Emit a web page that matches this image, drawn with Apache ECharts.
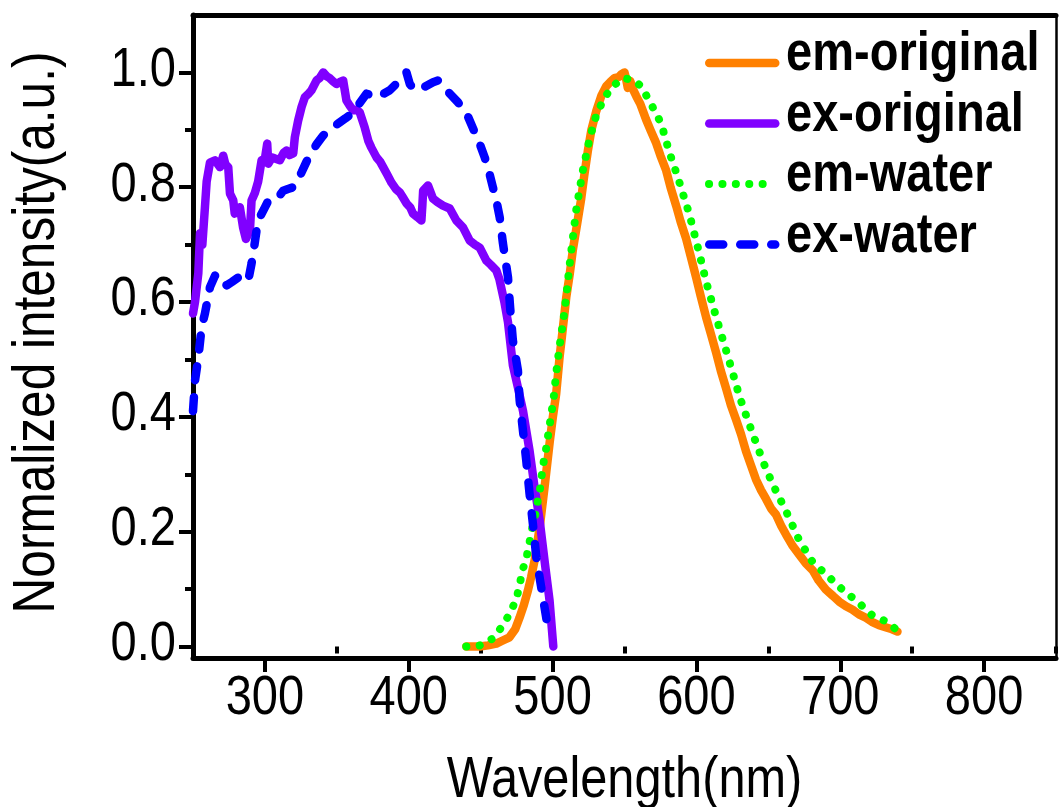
<!DOCTYPE html>
<html>
<head>
<meta charset="utf-8">
<script src="https://cdn.jsdelivr.net/npm/echarts@6/dist/echarts.min.js"></script>
<style>
  html, body { margin: 0; padding: 0; background: #ffffff; }
  #chart { width: 1059px; height: 807px; }
</style>
</head>
<body>
<div id="chart"></div>
<script>
// Normalized excitation / emission spectra, [wavelength (nm), intensity]
const seriesNames = ['em-original', 'ex-original', 'em-water', 'ex-water'];

const emOriginal = [
  [440, 0], [449.3, 0.0], [455, 0.002], [460.9, 0.005], [465, 0.01], [470, 0.016], [474, 0.03],
  [477, 0.05], [480, 0.072], [482.9, 0.098], [485, 0.12], [487.5, 0.15], [491, 0.207], [494.4, 0.277],
  [497.9, 0.354], [500.2, 0.4], [502.5, 0.44], [504.9, 0.505], [506.5, 0.54], [509.5, 0.608],
  [512, 0.65], [514.1, 0.691], [517, 0.735], [519.9, 0.78], [522, 0.82], [524.5, 0.863], [527, 0.9],
  [530.3, 0.932], [534, 0.96], [537.3, 0.976], [540, 0.983], [543, 0.99], [546, 0.992], [548, 0.997],
  [550, 1.0], [551, 0.99], [552.3, 0.973], [554, 0.985], [556, 0.97], [558.1, 0.959], [561, 0.945],
  [565, 0.918], [568, 0.9], [572, 0.877], [575, 0.855], [579, 0.829], [582, 0.8], [586, 0.767],
  [589, 0.74], [592.8, 0.711], [596, 0.68], [599.8, 0.643], [603, 0.61], [606.7, 0.574], [610, 0.545],
  [613.7, 0.512], [617, 0.48], [620.6, 0.45], [624, 0.42], [627.6, 0.395], [631, 0.37], [634.5, 0.34],
  [638, 0.315], [641.4, 0.291], [645, 0.272], [648.4, 0.257], [652, 0.24], [655.3, 0.23], [659, 0.21],
  [662.3, 0.195], [667, 0.175], [671.5, 0.16], [676, 0.145], [680.8, 0.133], [685, 0.115], [690, 0.099],
  [695, 0.088], [699.3, 0.078], [704, 0.07], [708.6, 0.064], [713, 0.056], [717.8, 0.05], [722, 0.043],
  [727, 0.037], [732, 0.033], [736, 0.03], [739.8, 0.026]
];

const exOriginal = [
  [250, 0.58], [251.4, 0.6], [253.7, 0.65], [254.9, 0.72], [256.5, 0.7], [258.3, 0.765], [259.5, 0.81],
  [261.8, 0.843], [265.3, 0.847], [268.8, 0.835], [271, 0.855], [272.5, 0.84], [274.5, 0.835],
  [275.7, 0.789], [278, 0.777], [279, 0.754], [282.6, 0.765], [284.8, 0.73], [286.8, 0.71], [289.6, 0.725],
  [290.7, 0.777], [293, 0.79], [295.3, 0.81], [297.7, 0.847], [300, 0.85], [301.6, 0.876], [302.3, 0.841],
  [305, 0.852], [307, 0.85], [310.4, 0.847], [313, 0.86], [315, 0.864], [317, 0.856], [319.7, 0.859],
  [320.8, 0.887], [323.1, 0.916], [325.5, 0.94], [327.8, 0.957], [330, 0.962], [332.4, 0.969],
  [335.9, 0.986], [338, 0.99], [340.5, 1.0], [343, 0.993], [345.1, 0.99], [347.5, 0.984], [349.8, 0.98],
  [352, 0.983], [354.4, 0.986], [356.7, 0.951], [359, 0.942], [361.3, 0.934], [364, 0.935], [366, 0.93],
  [369.4, 0.904], [372, 0.88], [374, 0.869], [377.6, 0.852], [380, 0.845], [382.2, 0.835], [385, 0.822],
  [388, 0.808], [391, 0.797], [393.8, 0.791], [396, 0.782], [398.4, 0.772], [401, 0.765], [403, 0.754],
  [406, 0.748], [408.8, 0.742], [409.5, 0.77], [410, 0.794], [413.4, 0.803], [416.9, 0.78], [420, 0.774],
  [423.8, 0.768], [428.5, 0.763], [433.1, 0.742], [437.7, 0.73], [442.4, 0.707], [446, 0.7],
  [449.3, 0.695], [454, 0.672], [457, 0.665], [460.9, 0.655], [463, 0.64], [466.5, 0.6], [469, 0.565],
  [472.4, 0.49], [476, 0.45], [479.4, 0.411], [484, 0.341], [487.5, 0.277], [491, 0.22], [494.4, 0.15],
  [497.9, 0.08], [500.5, 0.0]
];

const emWater = [
  [440, 0], [449.3, 0.002], [458.5, 0.014], [465.5, 0.037], [470.8, 0.06], [474.8, 0.083], [477.1, 0.106],
  [478.7, 0.13], [481.7, 0.153], [483.6, 0.176], [485.2, 0.2], [487.5, 0.223], [489.1, 0.246], [491, 0.269],
  [493.3, 0.315], [495.1, 0.338], [497.9, 0.385], [500.7, 0.432], [502.6, 0.478], [504.9, 0.524],
  [507.6, 0.571], [509.5, 0.61], [511.8, 0.664], [516.4, 0.76], [521, 0.829], [525.7, 0.884],
  [530.3, 0.925], [536, 0.956], [541.9, 0.976], [548.8, 0.99], [555.8, 0.987], [561.6, 0.976],
  [569.7, 0.939], [575.5, 0.911], [581.3, 0.86], [587, 0.818], [591.7, 0.78], [595.1, 0.753],
  [602.1, 0.684], [606.7, 0.636], [613.7, 0.574], [619.4, 0.526], [625.2, 0.477], [629.9, 0.436],
  [635.6, 0.395], [642.6, 0.347], [648.4, 0.309], [655.3, 0.271], [662.3, 0.236], [671.5, 0.185],
  [680.8, 0.147], [691.2, 0.123], [701.6, 0.099], [712, 0.078], [722.4, 0.054], [731.7, 0.044],
  [738.7, 0.03]
];

const exWater = [
  [250, 0.41], [251.4, 0.463], [253.7, 0.503], [256, 0.556], [258.3, 0.58], [261.8, 0.626], [265.3, 0.646],
  [268, 0.648], [270, 0.643], [273.4, 0.629], [277, 0.635], [281.5, 0.643], [286, 0.634], [289, 0.645],
  [290.7, 0.667], [291.9, 0.685], [294.2, 0.725], [296.5, 0.748], [300, 0.765], [303.5, 0.782],
  [307, 0.785], [310.4, 0.786], [312.7, 0.794], [316, 0.797], [319.7, 0.8], [322, 0.81], [325.5, 0.826],
  [329, 0.845], [332.4, 0.861], [336, 0.875], [340.5, 0.89], [344, 0.898], [347.5, 0.904], [350.9, 0.911],
  [356, 0.92], [361.3, 0.93], [366, 0.947], [370.6, 0.963], [374, 0.96], [377.6, 0.957], [382, 0.962],
  [386.8, 0.969], [392.6, 0.983], [398.4, 1.0], [400.7, 0.98], [403, 0.972], [406.5, 0.969], [411, 0.975],
  [416.9, 0.983], [420.3, 0.986], [424, 0.976], [428.5, 0.963], [434.2, 0.948], [440, 0.93],
  [445.8, 0.896], [449.3, 0.876], [452.8, 0.852], [455, 0.835], [458.5, 0.8], [460.9, 0.777],
  [463.2, 0.748], [465.5, 0.702], [469, 0.643], [470.5, 0.59], [472.4, 0.533], [475.9, 0.481],
  [477.1, 0.429], [479.4, 0.376], [481.7, 0.324], [484, 0.266], [486.3, 0.214], [488.7, 0.155],
  [492.1, 0.103], [495.6, 0.05], [497, 0.03]
];

// Axis ticks and titles
const xTickLabels = [300, 400, 500, 600, 700, 800];
const xMinorTicks = [250, 350, 450, 550, 650, 750, 850];
const yTickLabels = [0, 0.2, 0.4, 0.6, 0.8, 1.0];
const yMinorTicks = [0.1, 0.3, 0.5, 0.7, 0.9];
const xTitle = 'Wavelength(nm)';
const yTitle = 'Normalized intensity(a.u.)';

// Narrow sans lettering: a regular sans face condensed horizontally
const FONT = "'Liberation Sans', Arial, sans-serif";
const NARROW = 0.84;
const INK = '#000000';
const X_MIN = 250, X_MAX = 850, Y_MIN = -0.02, Y_MAX = 1.1;

const styles = {
  'em-original': { color: '#ff8000', type: 'solid', width: 8.5 },
  'ex-original': { color: '#8000ff', type: 'solid', width: 8.5 },
  'em-water':    { color: '#00ff00', type: [0.1, 13.3], width: 8 },
  'ex-water':    { color: '#0000ff', type: [14, 17], width: 8.5 }
};
const seriesData = {
  'em-original': emOriginal,
  'ex-original': exOriginal,
  'em-water': emWater,
  'ex-water': exWater
};

// Legend layout: first row line centre and row pitch
const LEGEND_LEFT = 705, LEGEND_ROW0 = 63, LEGEND_PITCH = 60.5, LEGEND_ICON_W = 66, LEGEND_ICON_H = 14;

function hiddenAxis(extra) {
  return Object.assign({
    type: 'value',
    axisLine: { show: false },
    axisLabel: { show: false },
    splitLine: { show: false },
    axisTick: { show: false }
  }, extra);
}

const chart = echarts.init(document.getElementById('chart'), null, { renderer: 'canvas' });

chart.setOption({
  backgroundColor: '#ffffff',
  animation: false,
  grid: { left: 193, right: 3, top: 15, bottom: 149, containLabel: false, outerBoundsMode: 'none' },
  legend: seriesNames.map((n, i) => ({
    orient: 'vertical',
    left: LEGEND_LEFT,
    top: LEGEND_ROW0 + i * LEGEND_PITCH - LEGEND_ICON_H / 2,
    padding: 0,
    itemWidth: LEGEND_ICON_W,
    itemHeight: LEGEND_ICON_H,
    selectedMode: false,
    formatter: () => '',
    textStyle: { fontSize: 1 },
    itemStyle: { opacity: 0 },
    data: [{
      name: n,
      itemStyle: { opacity: 0 },
      lineStyle: { color: styles[n].color, type: styles[n].type, width: styles[n].width, cap: 'round' }
    }]
  })),
  xAxis: [
    {
      type: 'value', min: X_MIN, max: X_MAX, position: 'bottom',
      axisLine: { show: true, onZero: false, lineStyle: { color: INK, width: 5 } },
      axisTick: { show: true, inside: false, length: 14, customValues: xTickLabels, lineStyle: { color: INK, width: 4 } },
      axisLabel: { show: false },
      splitLine: { show: false }
    },
    hiddenAxis({
      min: X_MIN, max: X_MAX, position: 'bottom',
      axisTick: { show: true, inside: false, length: 7, customValues: xMinorTicks, lineStyle: { color: INK, width: 4 } }
    }),
    hiddenAxis({
      min: X_MIN, max: X_MAX, position: 'top',
      axisLine: { show: true, onZero: false, lineStyle: { color: INK, width: 5 } }
    })
  ],
  yAxis: [
    {
      type: 'value', min: Y_MIN, max: Y_MAX, position: 'left',
      axisLine: { show: true, onZero: false, lineStyle: { color: INK, width: 5 } },
      axisTick: { show: true, inside: false, length: 14, customValues: yTickLabels, lineStyle: { color: INK, width: 4 } },
      axisLabel: { show: false },
      splitLine: { show: false }
    },
    hiddenAxis({
      min: Y_MIN, max: Y_MAX, position: 'left',
      axisTick: { show: true, inside: false, length: 8, customValues: yMinorTicks, lineStyle: { color: INK, width: 4 } }
    }),
    hiddenAxis({
      min: Y_MIN, max: Y_MAX, position: 'right',
      axisLine: { show: true, onZero: false, lineStyle: { color: INK, width: 2.5 } }
    })
  ],
  series: seriesNames.map(n => ({
    name: n,
    type: 'line',
    xAxisIndex: 0,
    yAxisIndex: 0,
    data: seriesData[n],
    symbol: 'none',
    showSymbol: false,
    smooth: false,
    color: styles[n].color,
    lineStyle: { color: styles[n].color, type: styles[n].type, width: styles[n].width, cap: 'round', join: 'round' },
    emphasis: { disabled: true }
  }))
});

// Condensed text labels placed from the axis scales
function narrowText(text, x, y, opts) {
  return {
    type: 'text',
    x: x, y: y,
    rotation: opts.rotation || 0,
    scaleX: NARROW,
    silent: true,
    z: 100,
    style: {
      text: text,
      fill: INK,
      fontFamily: FONT,
      fontSize: opts.size,
      fontWeight: opts.weight || 'normal',
      align: opts.align || 'center',
      verticalAlign: 'middle'
    }
  };
}

const xAxisPx = chart.convertToPixel({ yAxisIndex: 0 }, Y_MIN);   // bottom axis line
const yAxisPx = chart.convertToPixel({ xAxisIndex: 0 }, X_MIN);   // left axis line
const xMidPx = (chart.convertToPixel({ xAxisIndex: 0 }, X_MIN) + chart.convertToPixel({ xAxisIndex: 0 }, X_MAX)) / 2;
const yMidPx = (chart.convertToPixel({ yAxisIndex: 0 }, Y_MIN) + chart.convertToPixel({ yAxisIndex: 0 }, Y_MAX)) / 2;

const graphics = [];
xTickLabels.forEach(v => {
  graphics.push(narrowText(String(v), chart.convertToPixel({ xAxisIndex: 0 }, v), xAxisPx + 41, { size: 56 }));
});
yTickLabels.forEach(v => {
  graphics.push(narrowText(v.toFixed(1), yAxisPx - 17, chart.convertToPixel({ yAxisIndex: 0 }, v) - 2, { size: 56, align: 'right' }));
});
graphics.push(narrowText(xTitle, xMidPx, xAxisPx + 123, { size: 58 }));
graphics.push(narrowText(yTitle, yAxisPx - 155, yMidPx - 4, { size: 59, rotation: Math.PI / 2 }));
seriesNames.forEach((n, i) => {
  graphics.push(narrowText(n, LEGEND_LEFT + LEGEND_ICON_W + 15, LEGEND_ROW0 + i * LEGEND_PITCH - 8,
    { size: 56, weight: 'bold', align: 'left' }));
});

chart.setOption({ graphic: graphics });
</script>
</body>
</html>
